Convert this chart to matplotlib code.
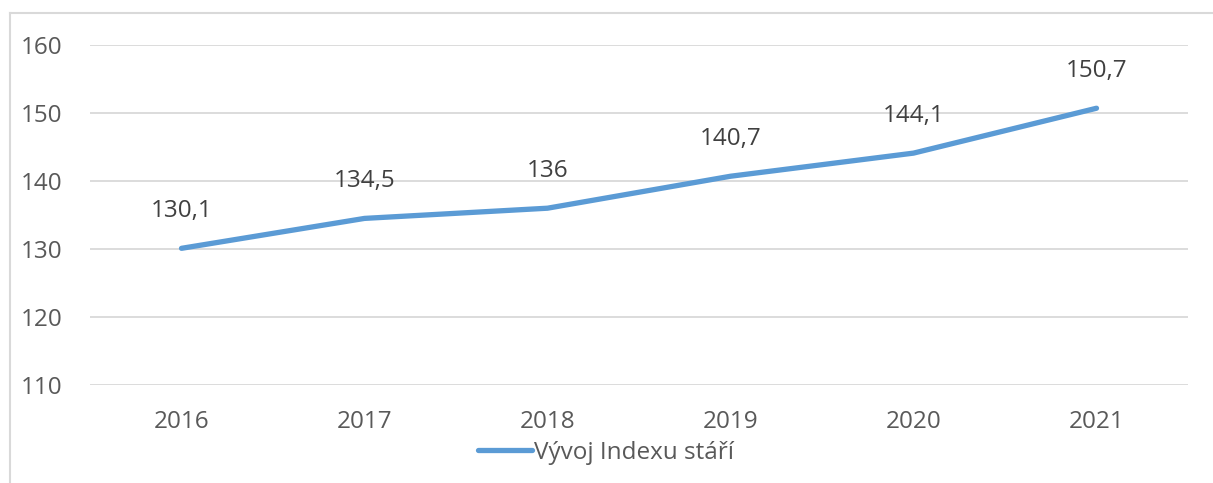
import matplotlib.pyplot as plt
from matplotlib.lines import Line2D

# --- Datos ---
roky = ["2016", "2017", "2018", "2019", "2020", "2021"]
index_stari = [130.1, 134.5, 136.0, 140.7, 144.1, 150.7]
popisky = ["130,1", "134,5", "136", "140,7", "144,1", "150,7"]
y_ticks = [110, 120, 130, 140, 150, 160]

W, H = 1213, 483
text_color = "#595959"
grid_color = "#D9D9D9"
line_color = "#5B9BD5"

plt.rcParams["font.family"] = ["Open Sans", "DejaVu Sans"]

fig = plt.figure(figsize=(W / 100, H / 100), dpi=100)
ax = fig.add_axes([90 / W, 1 - 385 / H, (1188 - 90) / W, (385 - 45) / H])

x = list(range(len(roky)))
ax.plot(x, index_stari, color=line_color, lw=3.8, solid_capstyle="round",
        label="Vývoj Indexu stáří")

for xi, yi, txt in zip(x, index_stari, popisky):
    ax.annotate(txt, (xi, yi), xytext=(0, 27), textcoords="offset points",
                ha="center", va="center", fontsize=17.5, color="#404040")

ax.set_xlim(-0.5, len(roky) - 0.5)
ax.set_ylim(110, 160)
ax.set_yticks(y_ticks)
ax.set_xticks(x)
ax.set_xticklabels(roky)
ax.tick_params(axis="both", length=0, labelsize=17.5, labelcolor=text_color)
ax.tick_params(axis="y", pad=20)
ax.tick_params(axis="x", pad=18)
ax.grid(axis="y", color=grid_color, lw=1.3)
ax.set_axisbelow(True)
for s in ax.spines.values():
    s.set_visible(False)

leg = ax.legend(loc="center", bbox_to_anchor=(0.47, -0.2), frameon=False,
                fontsize=17.5, handlelength=2.2, handletextpad=0.1,
                labelcolor=text_color)

# rámeček grafu (jen levá a horní hrana viditelné)
fig.add_artist(Line2D([10 / W, 10 / W], [0, 1 - 13 / H], transform=fig.transFigure,
                      color=grid_color, lw=1.5))
fig.add_artist(Line2D([10 / W, 1], [1 - 13 / H, 1 - 13 / H], transform=fig.transFigure,
                      color=grid_color, lw=1.5))

fig.savefig("out.png", dpi=100)
